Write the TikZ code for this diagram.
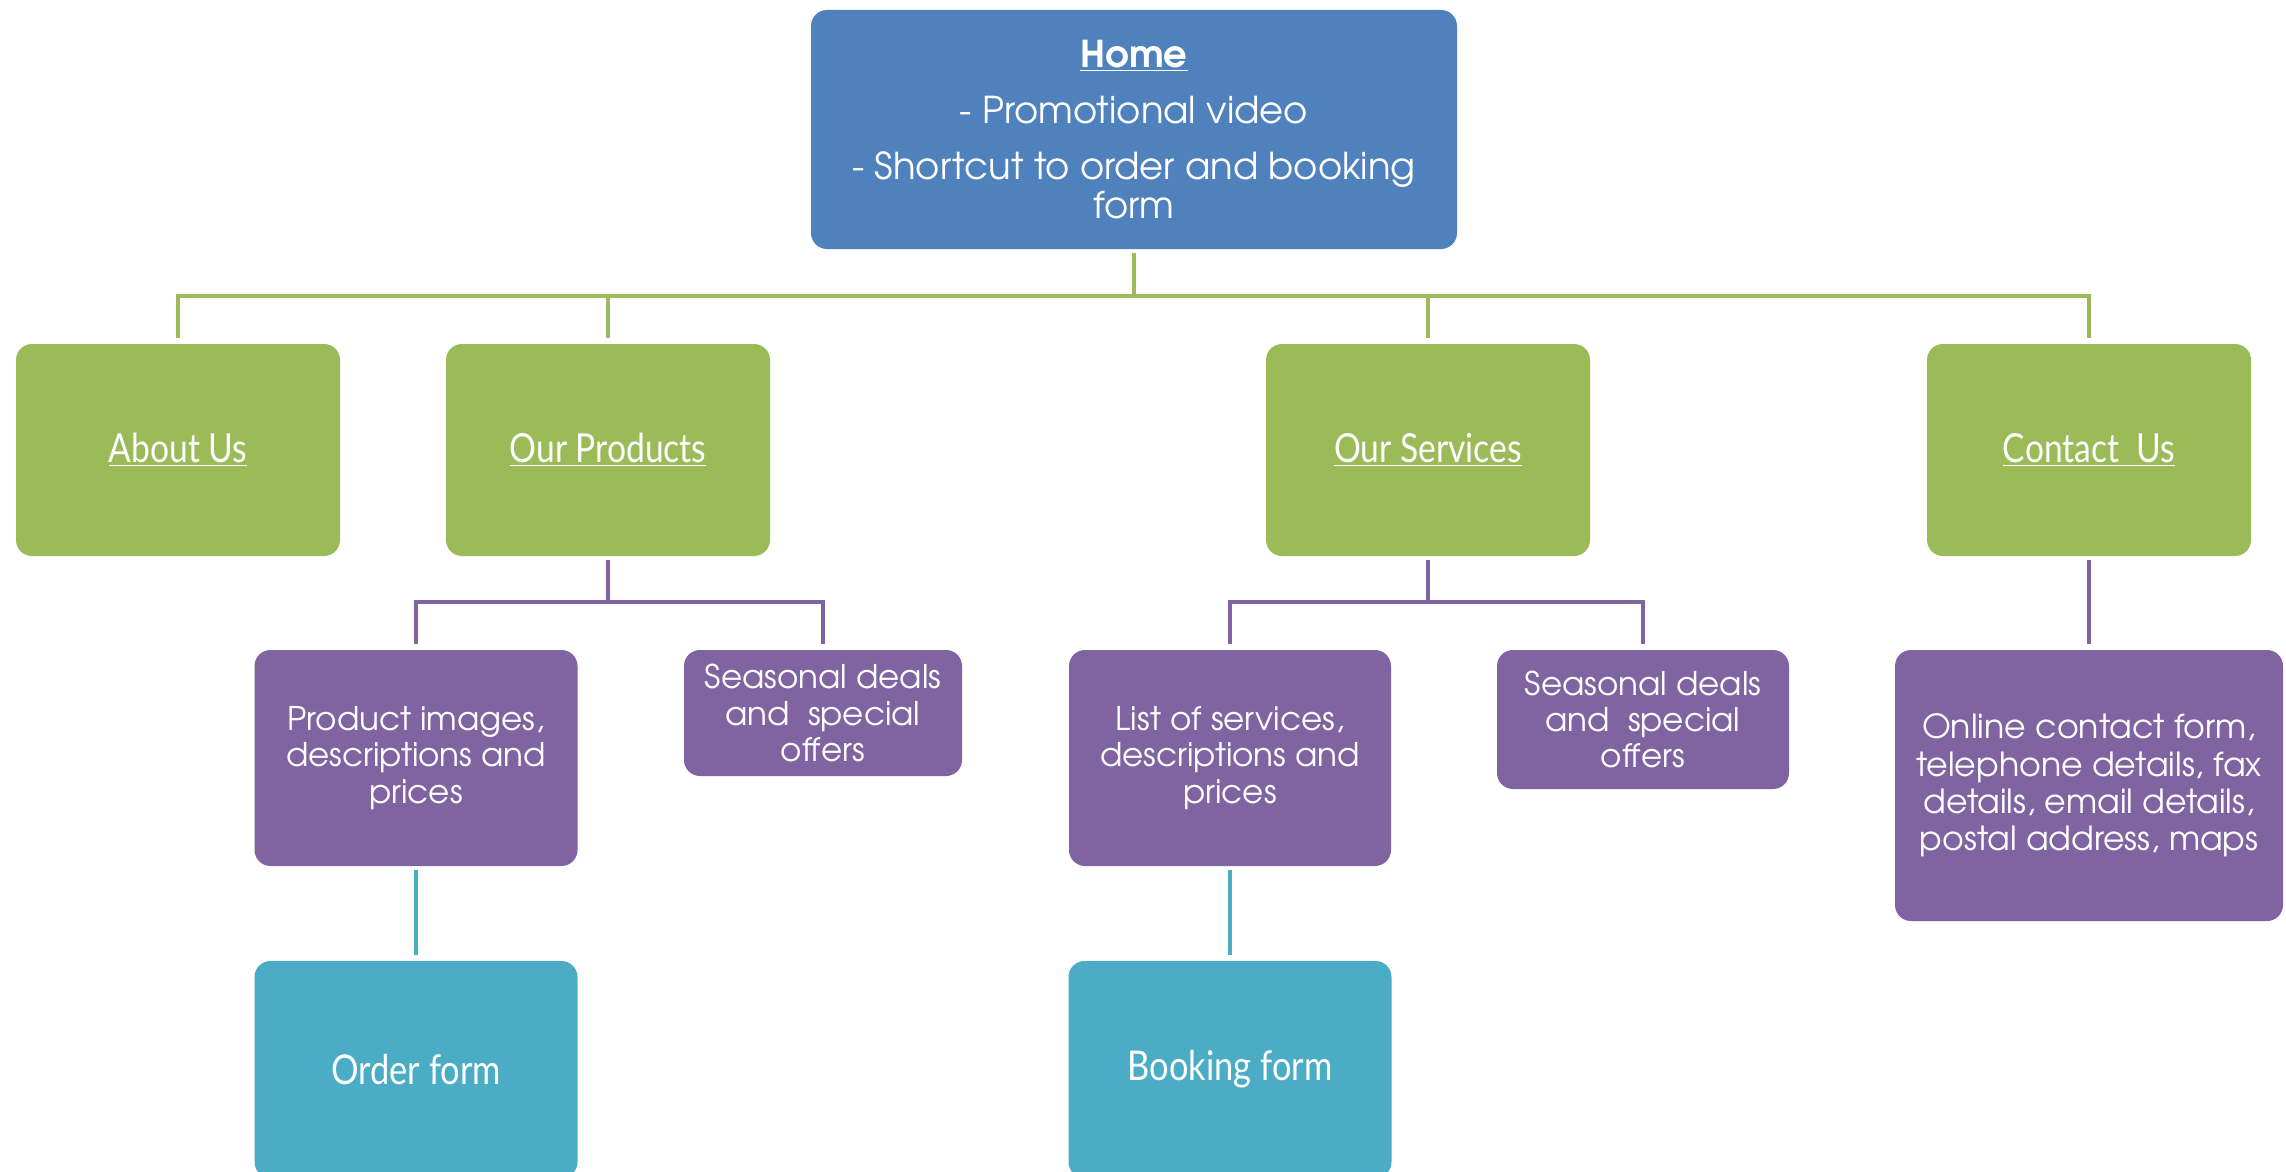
\documentclass[tikz,border=0pt]{standalone}
\usepackage{fontspec}
\setmainfont{TeX Gyre Adventor}
\newfontfamily\headfont[FakeStretch=0.84]{Lato}
\definecolor{homeblue}{HTML}{4F81BD}
\definecolor{ogreen}{HTML}{9BBB59}
\definecolor{opurple}{HTML}{8064A2}
\definecolor{ocyan}{HTML}{4BACC6}
\begin{document}
\begin{tikzpicture}[x=0.5pt,y=-0.5pt,
  box/.style={rounded corners=8pt, text=white, align=center, inner sep=0pt},
  homebox/.style={box, fill=homeblue, minimum width=323pt, minimum height=119.5pt, font=\fontsize{18.5}{19.5}\selectfont},
  greenbox/.style={box, fill=ogreen, minimum width=162pt, minimum height=106pt, font=\headfont\fontsize{20}{22}\selectfont},
  purplebox/.style={box, fill=opurple, font=\fontsize{16.3}{18.2}\selectfont},
  cyanbox/.style={box, fill=ocyan, minimum width=161.5pt, minimum height=108.5pt, font=\headfont\fontsize{20.5}{22}\selectfont},
  gline/.style={draw=ogreen, line width=2pt, shorten <=2pt, shorten >=3pt},
  pline/.style={draw=opurple, line width=2pt, shorten <=2pt, shorten >=3pt},
  cline/.style={draw=ocyan, line width=1.6pt, shorten <=2pt, shorten >=3pt}]
\useasboundingbox (0,0) rectangle (2286,1172);
\fill[white] (0,0) rectangle (2286,1172);

\node[homebox] (home) at (1134,129.5) {{\bfseries\underline{Home}}\\[8.5pt]
- Promotional video\\[8.5pt]
- Shortcut to order and booking\\form};

\node[greenbox] (about) at (178,450) {\underline{About Us}};
\node[greenbox] (products) at (608,450) {\underline{Our Products}};
\node[greenbox] (services) at (1428,450) {\underline{Our Services}};
\node[greenbox] (contact) at (2089,450) {\underline{Contact\ \ Us}};

\node[purplebox, minimum width=161.5pt, minimum height=108pt] (prodimg) at (416,758) {Product images,\\descriptions and\\prices};
\node[purplebox, minimum width=139pt, minimum height=63pt] (seas1) at (823,713) {Seasonal deals\\and\ \ special\\offers};
\node[purplebox, minimum width=161pt, minimum height=108pt] (servlist) at (1230,758) {List of services,\\descriptions and\\prices};
\node[purplebox, minimum width=146pt, minimum height=69.5pt] (seas2) at (1643,719.5) {Seasonal deals\\and\ \ special\\offers};
\node[purplebox, minimum width=194pt, minimum height=135.5pt, font=\fontsize{16.6}{18.7}\selectfont] (contactinfo) at (2089,785.5) {Online contact form,\\telephone details, fax\\details, email details,\\postal address, maps};

\node[cyanbox] (order) at (416,1069.5) {Order form};
\node[cyanbox] (booking) at (1230,1069.5) {Booking form};

\coordinate (gbus) at (1134,296);
\coordinate (pbus1) at (608,602);
\coordinate (pbus2) at (1428,602);

\draw[gline, shorten >=0pt] (home.south) -- (gbus);
\draw[gline, shorten <=0pt] (gbus) -| (about.north);
\draw[gline, shorten <=0pt] (gbus) -| (products.north);
\draw[gline, shorten <=0pt] (gbus) -| (services.north);
\draw[gline, shorten <=0pt] (gbus) -| (contact.north);

\draw[pline, shorten >=0pt] (products.south) -- (pbus1);
\draw[pline, shorten <=0pt] (pbus1) -| (prodimg.north);
\draw[pline, shorten <=0pt] (pbus1) -| (seas1.north);
\draw[pline, shorten >=0pt] (services.south) -- (pbus2);
\draw[pline, shorten <=0pt] (pbus2) -| (servlist.north);
\draw[pline, shorten <=0pt] (pbus2) -| (seas2.north);
\draw[pline] (contact.south) -- (contactinfo.north);

\draw[cline] (prodimg.south) -- (order.north);
\draw[cline] (servlist.south) -- (booking.north);
\end{tikzpicture}
\end{document}
